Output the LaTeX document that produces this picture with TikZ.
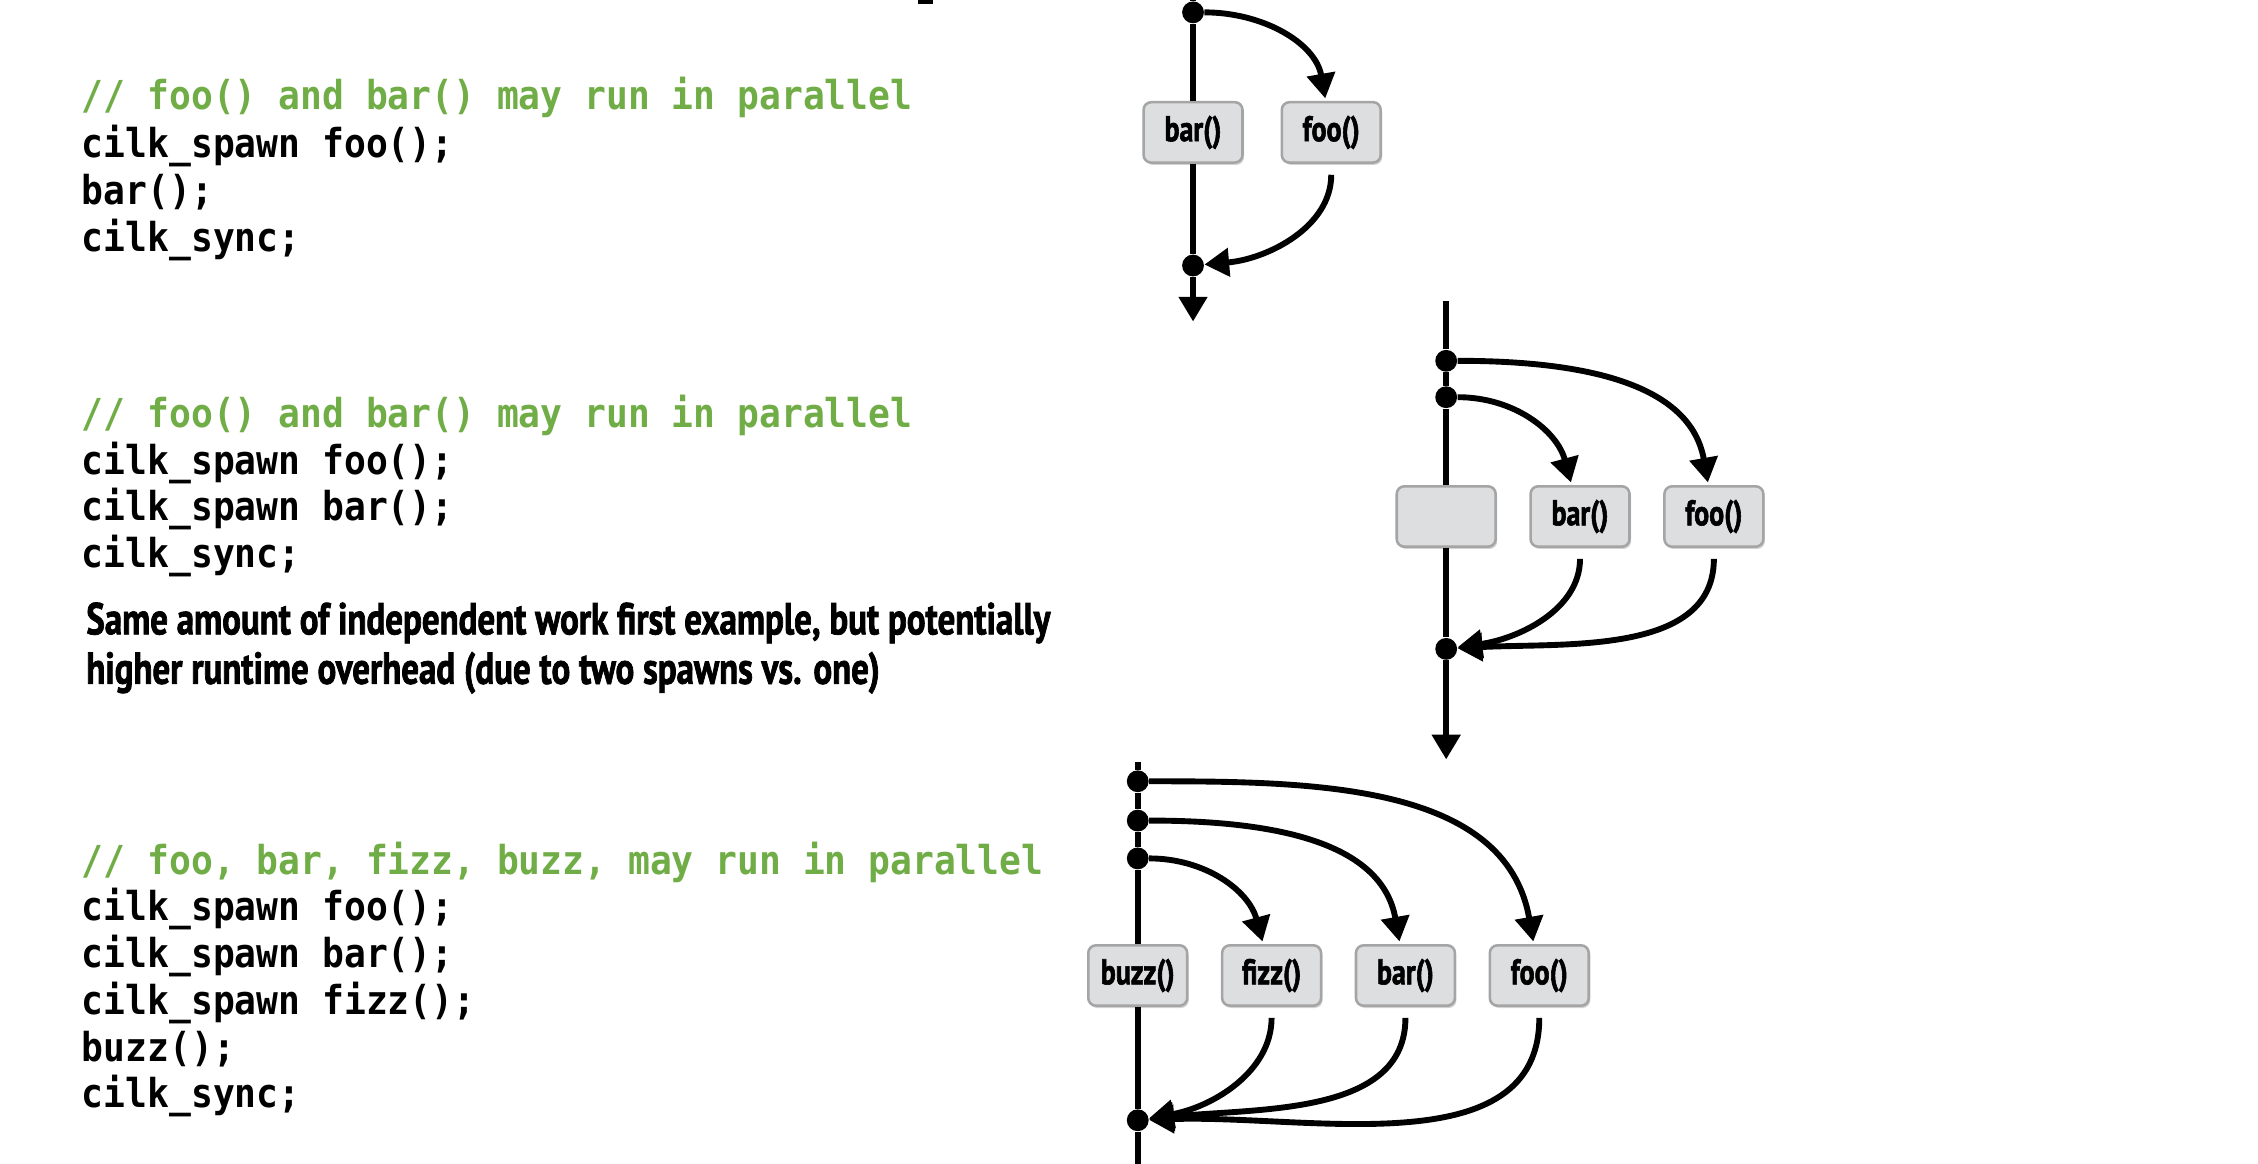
\documentclass[tikz,border=0pt]{standalone}
\usepackage{fontspec}
\setmonofont[FakeStretch=0.91]{DejaVu Sans Mono}
\newfontfamily\narrowfont[FakeStretch=0.78, BoldFeatures={FakeBold=1.6}]{PT Sans}
\usetikzlibrary{arrows.meta,shadows}

\definecolor{cmtgreen}{RGB}{112,173,71}
\definecolor{taskfill}{RGB}{221,222,224}
\definecolor{taskedge}{RGB}{165,165,165}

\tikzset{
  task/.style={draw=taskedge, line width=1pt, fill=taskfill, rounded corners=3pt,
    minimum width=1.36cm, minimum height=0.83cm, inner sep=0pt,
    font=\narrowfont\bfseries\fontsize{14}{16}\selectfont,
    drop shadow={opacity=0.35, shadow xshift=0.6pt, shadow yshift=-0.9pt}},
  syncpt/.style={circle, fill=black, inner sep=0pt, minimum size=0.3cm},
  strand/.style={line width=2.3pt},
  flow/.style={line width=2.3pt, -{Triangle[length=0.34cm, width=0.38cm]}},
  codeline/.style={anchor=base west, inner sep=0pt, font=\ttfamily\bfseries\fontsize{15.6}{18}\selectfont},
  prose/.style={anchor=base west, inner sep=0pt, font=\narrowfont\bfseries\fontsize{17.5}{20}\selectfont},
}

\begin{document}
\begin{tikzpicture}
			%%%%% START %%%%%
			\useasboundingbox (0, 0) rectangle (31.04, -16);
			\fill (12.62, 0) rectangle (12.82, -0.05);

			% first example
			\node[codeline, text=cmtgreen] (cmtA) at (1.12, -1.51) {// foo() and bar() may run in parallel};
			\node[codeline] (spawnA) at (1.12, -2.16) {cilk\_spawn foo();};
			\node[codeline] (callA) at (1.12, -2.81) {bar();};
			\node[codeline] (syncA) at (1.12, -3.46) {cilk\_sync;};

			\coordinate (topA) at (16.4, 0);
			\node[syncpt] (forkA) at (16.4, -0.17) {};
			\node[task] (barA) at (16.4, -1.82) {bar()};
			\node[task] (fooA) at (18.3, -1.82) {foo()};
			\node[syncpt] (joinA) at (16.4, -3.65) {};
			\coordinate (endA) at (16.4, -4.42);

			\draw[strand] (topA) -- (forkA) -- (barA) -- (joinA);
			\draw[flow] (joinA) -- (endA);
			\draw[flow, shorten >=1pt] (forkA) to[out=0, in=100] (fooA);
			\draw[flow, shorten <=0.15cm] (fooA) to[out=-90, in=5] (joinA);

			% second example
			\node[codeline, text=cmtgreen] (cmtB) at (1.12, -5.88) {// foo() and bar() may run in parallel};
			\node[codeline] (spawnB1) at (1.12, -6.52) {cilk\_spawn foo();};
			\node[codeline] (spawnB2) at (1.12, -7.16) {cilk\_spawn bar();};
			\node[codeline] (syncB) at (1.12, -7.80) {cilk\_sync;};
			\node[prose] (noteB1) at (1.18, -8.72) {Same amount of independent work first example, but potentially};
			\node[prose] (noteB2) at (1.18, -9.40) {higher runtime overhead (due to two spawns vs. one)};

			\coordinate (topB) at (19.88, -4.14);
			\node[syncpt] (forkB1) at (19.88, -4.96) {};
			\node[syncpt] (forkB2) at (19.88, -5.46) {};
			\node[task] (idleB) at (19.88, -7.10) {};
			\node[task] (barB) at (21.72, -7.10) {bar()};
			\node[task] (fooB) at (23.56, -7.10) {foo()};
			\node[syncpt] (joinB) at (19.88, -8.92) {};
			\coordinate (endB) at (19.88, -10.44);

			\draw[strand] (topB) -- (forkB1) -- (forkB2) -- (idleB) -- (joinB);
			\draw[flow] (joinB) -- (endB);
			\draw[flow, shorten >=1pt] (forkB1) to[out=0, in=100] (fooB);
			\draw[flow, shorten >=1pt] (forkB2) to[out=0, in=105] (barB);
			\draw[flow, shorten <=0.15cm] (barB) to[out=-90, in=8] (joinB);
			\draw[flow, shorten <=0.15cm] (fooB) to[out=-90, in=3] (joinB);

			% third example
			\node[codeline, text=cmtgreen] (cmtC) at (1.12, -12.02) {// foo, bar, fizz, buzz, may run in parallel};
			\node[codeline] (spawnC1) at (1.12, -12.66) {cilk\_spawn foo();};
			\node[codeline] (spawnC2) at (1.12, -13.30) {cilk\_spawn bar();};
			\node[codeline] (spawnC3) at (1.12, -13.95) {cilk\_spawn fizz();};
			\node[codeline] (callC) at (1.12, -14.59) {buzz();};
			\node[codeline] (syncC) at (1.12, -15.23) {cilk\_sync;};

			\coordinate (topC) at (15.64, -10.48);
			\node[syncpt] (forkC1) at (15.64, -10.74) {};
			\node[syncpt] (forkC2) at (15.64, -11.28) {};
			\node[syncpt] (forkC3) at (15.64, -11.80) {};
			\node[task] (buzzC) at (15.64, -13.41) {buzz()};
			\node[task] (fizzC) at (17.48, -13.41) {fizz()};
			\node[task] (barC) at (19.32, -13.41) {bar()};
			\node[task] (fooC) at (21.16, -13.41) {foo()};
			\node[syncpt] (joinC) at (15.64, -15.40) {};
			\coordinate (endC) at (15.64, -16);

			\draw[strand] (topC) -- (forkC1) -- (forkC2) -- (forkC3) -- (buzzC) -- (joinC) -- (endC);
			\draw[flow, shorten >=1pt] (forkC1) to[out=0, in=100] (fooC);
			\draw[flow, shorten >=1pt] (forkC2) to[out=0, in=100] (barC);
			\draw[flow, shorten >=1pt] (forkC3) to[out=0, in=105] (fizzC);
			\draw[flow, shorten <=0.15cm] (fizzC) to[out=-90, in=10] (joinC);
			\draw[flow, shorten <=0.15cm] (barC) to[out=-90, in=6] (joinC);
			\draw[flow, shorten <=0.15cm] (fooC) to[out=-90, in=2] (joinC);
			%%%%% END %%%%%
\end{tikzpicture}
\end{document}
